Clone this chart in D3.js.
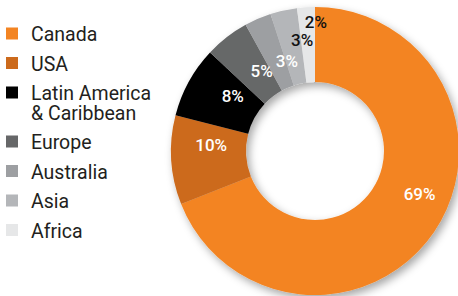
<!DOCTYPE html>
<html>
<head>
<meta charset="utf-8">
<script src="https://cdn.jsdelivr.net/npm/d3@7"></script>
<style>
  body { margin: 0; background: #fff; }
  svg { display: block; }
</style>
</head>
<body>
<div id="viz"></div>
<script>
const width = 458;
const height = 296;

// Data
const regions = ['Canada', 'USA', 'Latin America & Caribbean', 'Europe', 'Australia', 'Asia', 'Africa'];
const shares = [69, 10, 8, 5, 3, 3, 2];
const colors = ['#f38422', '#cc6a1c', '#000000', '#666768', '#9d9fa2', '#b4b6b9', '#e6e7e8'];
const labelColors = ['#fff', '#fff', '#fff', '#fff', '#fff', '#111', '#111'];

// label placement: radius and angle nudge (degrees) per slice
const labelRadius = [113, 104, 99, 96, 94, 112, 129];
const labelNudge = [-12, 7, 5, 4, 6, 6, 4];

const cx = 315, cy = 151;
const outerR = 144, innerR = 69;

const svg = d3.select('#viz')
  .append('svg')
    .attr('width', width)
    .attr('height', height)
    .attr('viewBox', `0 0 ${width} ${height}`);

const defs = svg.append('defs');
const shadow = defs.append('filter')
    .attr('id', 'shadow')
    .attr('x', '-20%').attr('y', '-20%')
    .attr('width', '140%').attr('height', '140%');
shadow.append('feDropShadow')
    .attr('dx', 3).attr('dy', 4)
    .attr('stdDeviation', 4)
    .attr('flood-color', '#000')
    .attr('flood-opacity', 0.35);

const pie = d3.pie().sort(null).value(d => d);
const arcs = pie(shares);
const arc = d3.arc().innerRadius(innerR).outerRadius(outerR);

const donut = svg.append('g')
    .attr('transform', `translate(${cx},${cy})`);

donut.append('g')
    .attr('filter', 'url(#shadow)')
  .selectAll('path')
  .data(arcs)
  .join('path')
    .attr('d', arc)
    .attr('fill', (d, i) => colors[i]);

donut.append('g')
  .selectAll('text')
  .data(arcs)
  .join('text')
    .attr('transform', (d, i) => {
      const a = (d.startAngle + d.endAngle) / 2 + labelNudge[i] * Math.PI / 180;
      const r = labelRadius[i];
      return `translate(${r * Math.sin(a)},${-r * Math.cos(a)})`;
    })
    .attr('text-anchor', 'middle')
    .attr('dy', '0.36em')
    .attr('fill', (d, i) => labelColors[i])
    .style('font-family', 'Roboto, sans-serif')
    .style('font-size', '17px')
    .style('font-weight', 500)
    .text(d => `${d.data}%`);

// Legend
const lineStep = 29.5;
const extraLine = 19.5;
let y = 41;
const legendRows = regions.map((name, i) => {
  const lines = name === 'Latin America & Caribbean' ? ['Latin America', '& Caribbean'] : [name];
  const row = { i, lines, baseline: y };
  y += lineStep + (lines.length - 1) * extraLine;
  return row;
});
const legendLines = legendRows.flatMap(r =>
  r.lines.map((l, k) => ({ text: l, y: r.baseline + k * extraLine })));

const legend = svg.append('g');

legend.selectAll('rect')
  .data(legendRows)
  .join('rect')
    .attr('x', 6)
    .attr('y', d => d.baseline - 13.5)
    .attr('width', 12)
    .attr('height', 12)
    .attr('fill', d => colors[d.i]);

legend.selectAll('text')
  .data(legendLines)
  .join('text')
    .attr('x', 31)
    .attr('y', d => d.y)
    .attr('fill', '#231f20')
    .style('font-family', 'Roboto, sans-serif')
    .style('font-size', '19.5px')
    .text(d => d.text);
</script>
</body>
</html>
